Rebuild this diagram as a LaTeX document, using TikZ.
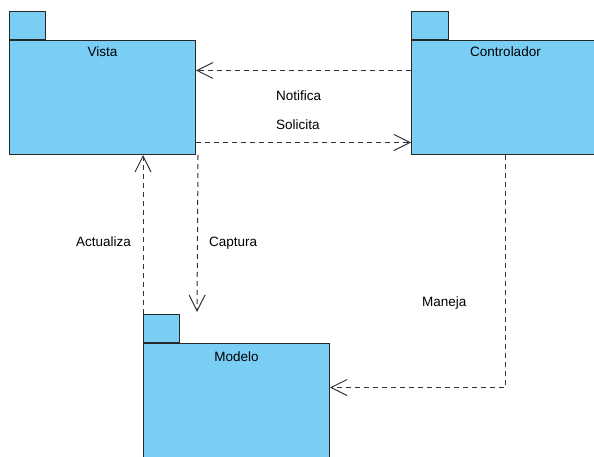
\documentclass[tikz,border=0pt]{standalone}
\usepackage{fontspec}
\setmainfont{Liberation Sans}
\usetikzlibrary{arrows.meta}
\definecolor{pkgfill}{RGB}{122,206,244}
\definecolor{pkgline}{RGB}{40,40,40}
\definecolor{depline}{RGB}{50,50,50}
\tikzset{
  pkgbody/.style={draw=pkgline, fill=pkgfill, line width=1pt, inner sep=0pt, minimum width=186pt, minimum height=114pt, anchor=north west},
  pkgtab/.style={draw=pkgline, fill=pkgfill, line width=1pt, inner sep=0pt, minimum width=36pt, minimum height=28pt, anchor=south west},
  pkgtitle/.style={font=\fontsize{13.5}{15}\selectfont, text=black, anchor=base, inner sep=0pt},
  lbl/.style={font=\fontsize{13.5}{15}\selectfont, text=black, anchor=base west, inner sep=0pt},
  dep/.style={draw=depline, line width=1pt, dash pattern=on 5pt off 4pt, -{Straight Barb[length=16pt, width=16pt, line width=1pt]}}
}
\begin{document}
\begin{tikzpicture}[x=1pt, y=-1pt]
\clip (0,0) rectangle (594,457);
\fill[white] (0,0) rectangle (594,457);
% packages
\node[pkgbody] (vista) at (9,40) {};
\node[pkgtab] (vtab) at (vista.north west) {};
\node[pkgtitle] (vtitle) at ([yshift=-17pt]vista.north) {Vista};

\node[pkgbody, minimum width=188pt] (ctrl) at (411,40) {};
\node[pkgtab, minimum width=37pt] (ctab) at (ctrl.north west) {};
\node[pkgtitle] (ctitle) at ([yshift=-17pt]ctrl.north) {Controlador};

\node[pkgbody] (modelo) at (143,343) {};
\node[pkgtab] (mtab) at (modelo.north west) {};
\node[pkgtitle] (mtitle) at ([yshift=-18pt]modelo.north) {Modelo};

% connectors
\coordinate (capend) at (197,312);
\draw[dep] ([yshift=27pt]ctrl.west) -- ([yshift=27pt]vista.east);
\draw[dep] ([yshift=-45pt]vista.east) -- ([yshift=-45pt]ctrl.west);
\draw[dep] ([xshift=2pt]vista.south east) -- (capend);
\draw[dep] (mtab.north west) -- (mtab.north west |- vista.south);
\draw[dep] (ctrl.south) |- ([yshift=13pt]modelo.east);

% labels
\node[lbl] (lnot) at (276,101) {Notifica};
\node[lbl] (lsol) at (276,130) {Solicita};
\node[lbl] (lcap) at (209,246) {Captura};
\node[lbl] (lact) at (76,246) {Actualiza};
\node[lbl] (lman) at (422,306) {Maneja};
\end{tikzpicture}
\end{document}
